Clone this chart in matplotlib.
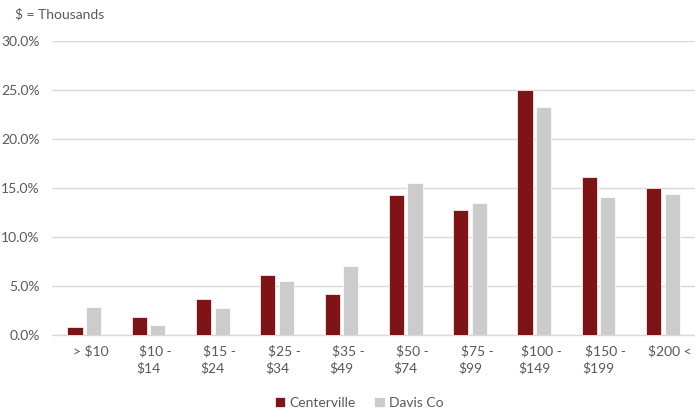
import matplotlib
matplotlib.use("Agg")
import matplotlib.pyplot as plt
import numpy as np
from matplotlib.ticker import FuncFormatter
from matplotlib.transforms import ScaledTranslation

categories = ["> $10", "$10 -\n$14", "$15 -\n$24", "$25 -\n$34", "$35 -\n$49",
              "$50 -\n$74", "$75 -\n$99", "$100 -\n$149", "$150 -\n$199", "$200 <"]
centerville = [0.8, 1.8, 3.7, 6.1, 4.2, 14.3, 12.8, 25.0, 16.1, 15.0]
davis_co = [2.8, 1.0, 2.7, 5.5, 7.0, 15.5, 13.5, 23.3, 14.1, 14.4]
series_names = ["Centerville", "Davis Co"]

plt.rcParams['font.family'] = ['Lato', 'DejaVu Sans']
txt = '#595959'

fig = plt.figure(figsize=(6.95, 4.15), dpi=100)
ax = fig.add_axes([0.075, 0.193, 0.925, 0.708])

x = np.arange(len(categories))
w = 0.235
ax.bar(x - 0.145, centerville, w, color='#7F1416', edgecolor='white', linewidth=0.5,
       label=series_names[0], zorder=3)
ax.bar(x + 0.145, davis_co, w, color='#CCCCCC', edgecolor='white', linewidth=0.5,
       label=series_names[1], zorder=3)

ax.set_xlim(-0.5, len(categories) - 0.5)
ax.set_ylim(0, 30)
ax.set_yticks(np.arange(0, 30.1, 5))
ax.yaxis.set_major_formatter(FuncFormatter(lambda v, p: f"{v:.1f}%"))
ax.grid(axis='y', color='#D9D9D9', linewidth=1, zorder=0)
for s in ['top', 'right', 'left']:
    ax.spines[s].set_visible(False)
ax.spines['bottom'].set_color('#D9D9D9')
ax.spines['bottom'].set_linewidth(1)
ax.tick_params(axis='both', length=0, colors=txt, labelsize=10)
ax.tick_params(axis='y', pad=9)
ax.set_xticks(x)
ax.set_xticklabels([])

# category labels: first line nudged right, second line centred (as in the source)
tr = ax.get_xaxis_transform()
for xi, lab in zip(x, categories):
    lines = lab.split("\n")
    t1 = tr + ScaledTranslation(7 / 100, -21 / 100, fig.dpi_scale_trans)
    ax.text(xi, 0, lines[0], transform=t1, ha='center', va='baseline',
            color=txt, fontsize=10)
    if len(lines) > 1:
        t2 = tr + ScaledTranslation(0, -38 / 100, fig.dpi_scale_trans)
        ax.text(xi, 0, lines[1], transform=t2, ha='center', va='baseline',
                color=txt, fontsize=10)

fig.text(15 / 695, 1 - 14 / 415, "$ = Thousands", color=txt, fontsize=10, va='center', ha='left')

leg = fig.legend(loc='center', bbox_to_anchor=(0.517, 1 - 403 / 415), ncol=2, frameon=False,
                 fontsize=10, handlelength=0.75, handleheight=0.75, handletextpad=0.35,
                 columnspacing=1.3, labelcolor=txt)

fig.savefig("out.png", dpi=100)
